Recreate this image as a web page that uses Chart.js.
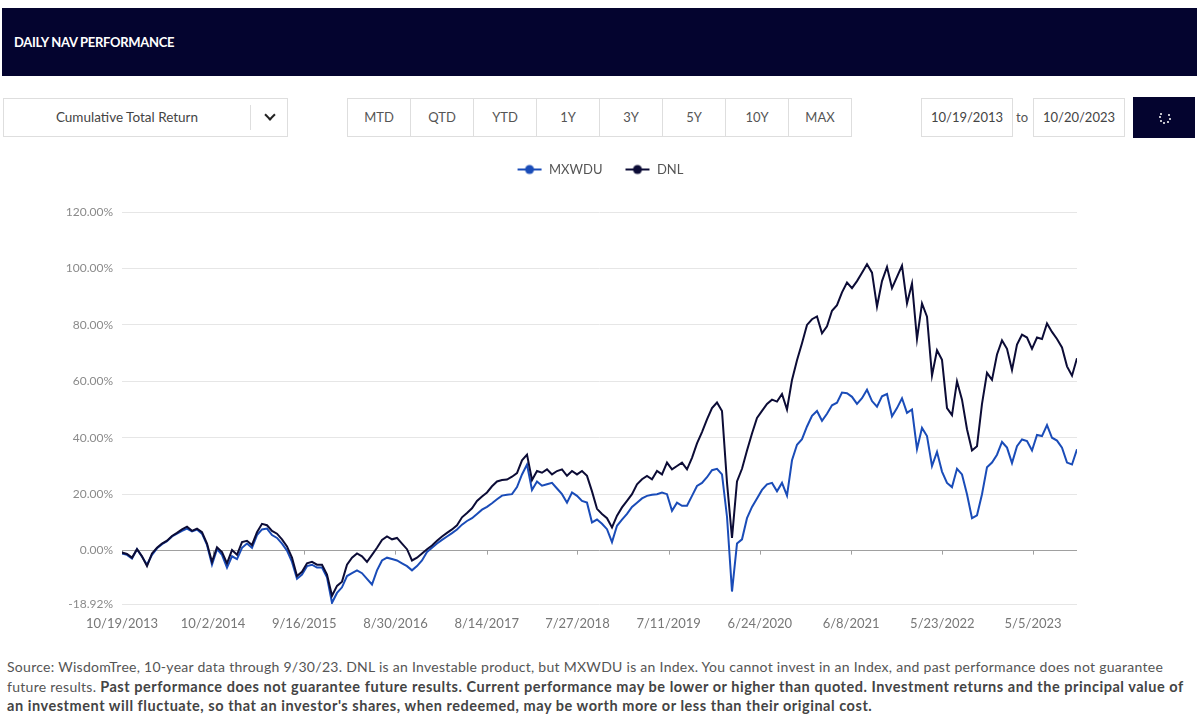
<!DOCTYPE html>
<html>
<head>
<meta charset="utf-8">
<script src="https://cdn.jsdelivr.net/npm/chart.js@4.4.0/dist/chart.umd.min.js"></script>
<style>
  body { margin: 0; width: 1200px; height: 722px; background: #fff; position: relative; overflow: hidden;
         font-family: Lato, 'Open Sans', sans-serif; }
  .hdr { position: absolute; left: 2px; top: 8px; width: 1195px; height: 68px; background: #04042f;
         color: #fff; font-weight: 700; font-size: 13px; line-height: 68px; padding-left: 12px;
         box-sizing: border-box; letter-spacing: -0.3px; }
  .box { position: absolute; border: 1px solid #dedede; box-sizing: border-box; color: #444; font-size: 13px;
         text-align: center; }
  .sel { left: 3px; top: 98px; width: 285px; height: 39px; line-height: 37px; font-size: 13.5px; }
  .sel .txt { position: absolute; left: 0; width: 246px; text-align: center; }
  .sel .div { position: absolute; left: 246px; top: 6px; width: 1px; height: 25px; background: #dedede; }
  .sel .chev { position: absolute; left: 262px; top: 12px; width: 6px; height: 6px;
               border-right: 2px solid #222; border-bottom: 2px solid #222; transform: rotate(45deg); }
  .btns { position: absolute; left: 348px; top: 98px; height: 39px; display: flex; }
  .btns div { width: 64px; height: 39px; border: 1px solid #dedede; margin-left: -1px; box-sizing: border-box;
              line-height: 37px; text-align: center; font-size: 13px; color: #555; }
  .date { top: 98px; height: 39px; line-height: 37px; width: 92px; }
  .to { position: absolute; left: 1016px; top: 98px; line-height: 39px; font-size: 13px; color: #555; }
  .go { position: absolute; left: 1133px; top: 97px; width: 62px; height: 41px; background: #04042f; }
  .go span { position: absolute; width: 2px; height: 2px; background: #fff; border-radius: 1px; }
  #wrap { position: absolute; left: 0; top: 140px; width: 1200px; height: 500px; }
  .src { position: absolute; left: 7px; top: 657px; font-size: 14px; line-height: 19.5px; color: #555;
         white-space: nowrap; letter-spacing: 0.28px; }
  .src b { color: #444; font-size: 14.5px; letter-spacing: 0.54px; }
</style>
</head>
<body>
<div class="hdr">DAILY NAV PERFORMANCE</div>

<div class="box sel"><span class="txt">Cumulative Total Return</span><span class="div"></span><span class="chev"></span></div>

<div class="btns">
  <div>MTD</div><div>QTD</div><div>YTD</div><div>1Y</div><div>3Y</div><div>5Y</div><div>10Y</div><div>MAX</div>
</div>

<div class="box date" style="left:921px">10/19/2013</div>
<div class="to">to</div>
<div class="box date" style="left:1033px">10/20/2023</div>
<div class="go">
  <span style="left:26px;top:19px"></span>
  <span style="left:27px;top:23px"></span>
  <span style="left:30px;top:25px"></span>
  <span style="left:34px;top:24px"></span>
  <span style="left:36px;top:21px"></span>
  <span style="left:35px;top:17px"></span>
  <span style="left:27px;top:16px"></span>
</div>

<div id="wrap"><canvas id="chart"></canvas></div>

<div class="src">
Source: WisdomTree, 10-year data through 9/30/23. DNL is an Investable product, but MXWDU is an Index. You cannot invest in an Index, and past performance does not guarantee<br>
future results. <b>Past performance does not guarantee future results. Current performance may be lower or higher than quoted. Investment returns and the principal value of<br>
an investment will fluctuate, so that an investor's shares, when redeemed, may be worth more or less than their original cost.</b>
</div>

<script>
// range of the chart and x-axis tick labels
const startDate = '10/19/2013';
const endDate = '10/20/2023';
const tickLabels = ['10/19/2013', '10/2/2014', '9/16/2015', '8/30/2016', '8/14/2017', '7/27/2018',
                    '7/11/2019', '6/24/2020', '6/8/2021', '5/23/2022', '5/5/2023'];
const yTicks = [-18.92, 0, 20, 40, 60, 80, 100, 120];

// cumulative total return (%), evenly spaced through the period
const mxwdu = [
  -1.0, -1.5, -2.8, 0.5, -2.2, -5.0, -1.5, 0.8, 2.3, 3.3,
  5.0, 6.0, 7.0, 7.8, 6.8, 7.5, 6.0, 2.0, -5.0, 0.5,
  -1.5, -6.0, -2.0, -3.0, 1.0, 2.5, 1.0, 5.5, 7.5, 7.8,
  5.5, 4.5, 2.5, 0.0, -4.0, -10.0, -8.5, -5.5, -5.0, -6.0,
  -6.0, -9.5, -18.5, -15.0, -13.0, -9.0, -8.0, -7.0, -8.0, -10.0,
  -12.0, -7.0, -3.5, -2.5, -3.0, -3.5, -4.5, -5.5, -7.0, -5.5,
  -3.5, -0.5, 1.0, 2.5, 3.8, 5.0, 6.2, 7.5, 9.2, 10.5,
  11.5, 13.0, 14.5, 15.5, 16.8, 18.2, 19.5, 19.8, 20.0, 22.5,
  27.0, 30.5, 21.5, 24.5, 23.0, 23.5, 24.0, 22.0, 20.0, 17.0,
  20.6, 19.4, 17.6, 17.0, 10.0, 11.0, 9.5, 7.6, 3.0, 8.8,
  11.0, 13.0, 15.5, 17.0, 18.5, 19.4, 19.8, 20.0, 20.6, 20.0,
  14.1, 17.0, 15.9, 15.9, 19.4, 22.9, 24.0, 26.0, 28.5, 29.0,
  27.0, 12.0, -14.5, 2.5, 4.0, 11.5, 15.5, 18.5, 21.5, 23.5,
  24.0, 21.0, 24.0, 19.5, 32.0, 37.5, 39.5, 44.0, 47.8, 49.5,
  46.0, 48.5, 51.5, 52.4, 56.0, 55.8, 54.5, 52.0, 54.0, 57.0,
  53.0, 51.0, 54.7, 55.5, 47.6, 50.5, 54.0, 48.8, 50.0, 36.0,
  43.5, 40.6, 30.0, 35.0, 28.0, 24.0, 22.5, 29.0, 27.0, 20.0,
  11.5, 12.5, 20.0, 29.5, 31.2, 34.0, 38.5, 36.5, 31.0, 37.0,
  39.4, 38.8, 35.5, 41.0, 40.6, 44.5, 40.0, 39.0, 36.5, 31.2,
  30.5, 35.9
];

const dnl = [
  -0.7, -1.2, -2.5, 0.5, -2.0, -5.5, -1.0, 1.0, 2.5, 3.5,
  5.2, 6.3, 7.5, 8.5, 7.0, 7.8, 6.5, 2.5, -4.0, 1.2,
  -0.5, -4.5, 0.2, -1.5, 3.0, 3.5, 2.0, 6.5, 9.5, 9.0,
  7.0, 6.0, 4.0, 1.5, -2.5, -9.0, -7.5, -4.5, -4.0, -5.0,
  -5.0, -8.5, -16.0, -12.5, -11.0, -5.0, -2.5, -1.0, -2.0, -4.0,
  -1.5, 1.0, 3.8, 5.0, 4.0, 4.5, 2.5, 0.5, -3.5, -2.5,
  -1.0, 0.5, 1.8, 3.5, 5.0, 6.3, 7.5, 9.0, 11.8, 13.3,
  15.0, 17.6, 19.2, 20.6, 22.8, 24.5, 25.0, 25.2, 26.2, 27.5,
  32.0, 34.0, 25.0, 28.2, 27.6, 28.8, 27.0, 28.2, 28.8, 26.5,
  28.2, 27.0, 28.2, 26.5, 21.0, 14.8, 13.0, 11.5, 8.2, 12.4,
  15.3, 17.6, 20.0, 23.5, 25.3, 26.5, 25.3, 28.2, 27.0, 31.2,
  28.8, 30.0, 31.2, 28.8, 32.9, 38.0, 42.0, 46.5, 50.5, 52.5,
  49.5, 24.1, 4.5, 24.5, 29.0, 35.5, 41.5, 47.0, 49.5, 52.0,
  53.5, 52.8, 55.5, 50.0, 60.5, 67.5, 73.5, 80.0, 82.0, 83.0,
  77.0, 79.5, 85.0, 87.0, 91.5, 95.0, 93.0, 95.5, 98.5, 101.5,
  98.5, 86.5, 95.5, 100.5, 93.0, 97.0, 101.0, 87.6, 94.7, 75.0,
  87.6, 82.9, 62.0, 71.0, 67.6, 50.5, 48.0, 60.0, 53.5, 43.0,
  35.5, 37.0, 52.0, 63.0, 60.5, 69.5, 74.5, 71.5, 64.0, 73.0,
  76.5, 75.5, 71.5, 75.5, 75.0, 80.5, 77.5, 75.0, 72.0, 65.3,
  62.0, 68.2
];

const BLUE = '#1a4cb8';
const NAVY = '#0c0c36';

function dayOffset(str) {
  const [m, d, y] = str.split('/').map(Number);
  const [m0, d0, y0] = startDate.split('/').map(Number);
  return Math.round((new Date(y, m - 1, d) - new Date(y0, m0 - 1, d0)) / 86400000);
}

const totalDays = dayOffset(endDate);
const toPoints = arr => {
  const step = totalDays / (arr.length - 1);
  return arr.map((v, i) => ({ x: i * step, y: v }));
};

// legend marker: line with a dot in the middle
function legendMarker(color) {
  const c = document.createElement('canvas');
  c.width = 26; c.height = 12;
  const g = c.getContext('2d');
  g.strokeStyle = color; g.lineWidth = 2;
  g.beginPath(); g.moveTo(1, 6); g.lineTo(25, 6); g.stroke();
  g.fillStyle = color;
  g.beginPath(); g.arc(13, 6, 4.5, 0, Math.PI * 2); g.fill();
  return c;
}

// extra room under the legend
const legendGap = {
  id: 'legendGap',
  beforeInit(chart) {
    const fit = chart.legend.fit;
    chart.legend.fit = function () { fit.call(this); this.height += 26; };
  }
};

// small tick marks hanging from the zero line
const zeroTicks = {
  id: 'zeroTicks',
  beforeDatasetsDraw(chart) {
    const { ctx, scales: { x, y } } = chart;
    const y0 = y.getPixelForValue(0);
    ctx.save();
    ctx.strokeStyle = '#a0a0a0';
    ctx.lineWidth = 1;
    x.ticks.forEach(t => {
      const px = Math.round(x.getPixelForValue(t.value)) + 0.5;
      ctx.beginPath(); ctx.moveTo(px, y0); ctx.lineTo(px, y0 + 4); ctx.stroke();
    });
    ctx.restore();
  }
};

new Chart(document.getElementById('chart'), {
  type: 'line',
  data: {
    datasets: [{
      label: 'MXWDU',
      data: toPoints(mxwdu),
      borderColor: BLUE,
      backgroundColor: BLUE,
      borderWidth: 2,
      pointRadius: 0,
      pointStyle: legendMarker(BLUE),
      tension: 0,
      order: 1
    }, {
      label: 'DNL',
      data: toPoints(dnl),
      borderColor: NAVY,
      backgroundColor: NAVY,
      borderWidth: 2,
      pointRadius: 0,
      pointStyle: legendMarker(NAVY),
      tension: 0,
      order: 0
    }]
  },
  options: {
    responsive: true,
    maintainAspectRatio: false,
    animation: false,
    layout: { padding: { top: 1, left: 0, right: 0, bottom: 0 } },
    plugins: {
      legend: {
        position: 'top',
        labels: {
          usePointStyle: true,
          pointStyleWidth: 26,
          color: '#555',
          font: { size: 13, family: 'Lato' },
          padding: 22,
          sort: (a, b) => a.datasetIndex - b.datasetIndex
        }
      },
      tooltip: { enabled: false }
    },
    scales: {
      x: {
        type: 'linear',
        min: 0,
        max: totalDays,
        grid: { display: false },
        border: { display: false },
        afterBuildTicks(s) { s.ticks = tickLabels.map(l => ({ value: dayOffset(l) })); },
        afterFit(s) { s.height = 36; },
        ticks: {
          autoSkip: false,
          maxRotation: 0,
          color: '#777',
          padding: 4,
          font: { size: 13, family: 'Lato' },
          callback: (v, i) => tickLabels[i]
        }
      },
      y: {
        min: yTicks[0],
        max: yTicks[yTicks.length - 1],
        afterBuildTicks(s) { s.ticks = yTicks.map(v => ({ value: v })); },
        afterFit(s) { s.width = 122; },
        border: { display: false },
        grid: {
          drawTicks: false,
          color: ctx => ctx.tick && ctx.tick.value === 0 ? '#a0a0a0' : '#e6e6e6'
        },
        ticks: {
          color: '#8a8a8a',
          padding: 9,
          font: { size: 12, family: 'Lato' },
          callback: v => v.toFixed(2) + '%'
        }
      },
      yRight: {
        position: 'right',
        display: true,
        grid: { display: false },
        border: { display: false },
        ticks: { display: false },
        afterFit(s) { s.width = 123; }
      }
    }
  },
  plugins: [legendGap, zeroTicks]
});
</script>
</body>
</html>
